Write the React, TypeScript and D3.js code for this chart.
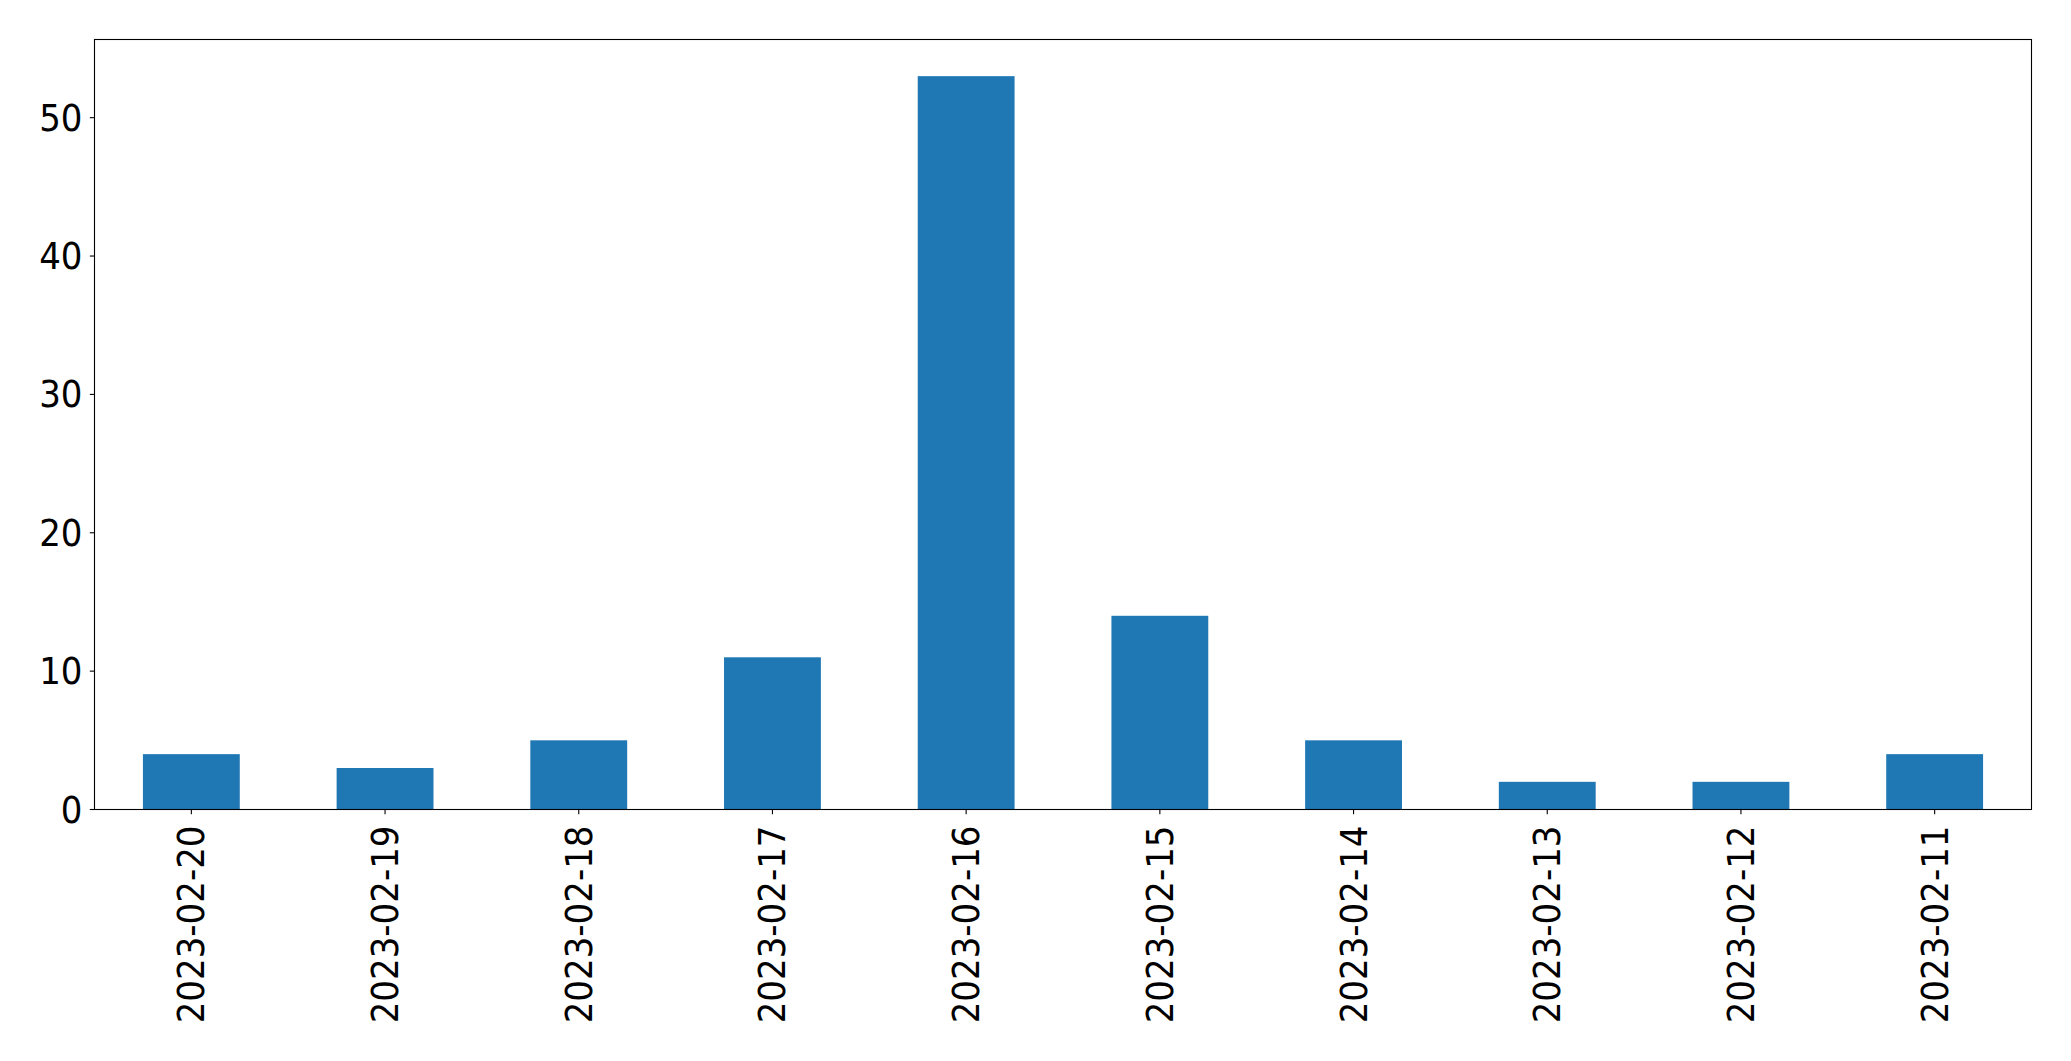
import React from "react";
import * as d3 from "d3";

const categories = ["2023-02-20","2023-02-19","2023-02-18","2023-02-17","2023-02-16","2023-02-15","2023-02-14","2023-02-13","2023-02-12","2023-02-11"];
const values = [4, 3, 5, 11, 53, 14, 5, 2, 2, 4];
const yTicks = [0, 10, 20, 30, 40, 50];

const W = 2071, H = 1061;
const M = { left: 94.5, right: 2031.5, top: 39.5, bottom: 809.5 };

export default function App() {
  const x = d3.scaleBand<string>().domain(categories).range([M.left, M.right]).paddingInner(0.5).paddingOuter(0.25);
  const yMax = d3.max(values)! * 1.05;
  const y = d3.scaleLinear().domain([0, yMax]).range([M.bottom, M.top]);
  const font = "'DejaVu Sans', sans-serif";
  const sq = 0.92;
  return (
    <svg width={W} height={H} style={{ position: "absolute", left: 0, top: 0, background: "#fff" }}>
      {categories.map((c, i) => (
        <rect key={c} x={x(c)} y={y(values[i])} width={x.bandwidth()} height={y(0) - y(values[i])} fill="#1f77b4" />
      ))}
      <rect x={M.left} y={M.top} width={M.right - M.left} height={M.bottom - M.top} fill="none" stroke="#000" strokeWidth={1.1} />
      {yTicks.map(t => (
        <g key={t}>
          <line x1={M.left - 4.7} x2={M.left} y1={y(t)} y2={y(t)} stroke="#000" strokeWidth={1.1} />
          <text transform={`translate(${M.left - 12},${y(t)}) scale(${sq},1)`} textAnchor="end" dominantBaseline="central" fontFamily={font} fontSize={37} fill="#000">{t}</text>
        </g>
      ))}
      {categories.map(c => {
        const cx = x(c)! + x.bandwidth() / 2;
        return (
          <g key={c}>
            <line x1={cx} x2={cx} y1={M.bottom} y2={M.bottom + 4.7} stroke="#000" strokeWidth={1.1} />
            <text transform={`translate(${cx},${M.bottom + 16}) rotate(-90) scale(${sq},1)`} textAnchor="end" dominantBaseline="central" fontFamily={font} fontSize={37} fill="#000">{c}</text>
          </g>
        );
      })}
    </svg>
  );
}
